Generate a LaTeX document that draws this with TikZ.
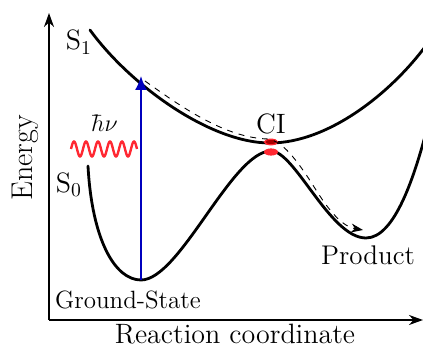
\documentclass[tikz,border=0pt]{standalone}
\usepackage{fontspec}
\usetikzlibrary{arrows.meta}
\definecolor{myblue}{RGB}{0,0,190}
\definecolor{myred}{RGB}{255,40,50}
\definecolor{darkdot}{RGB}{170,0,0}
\begin{document}
\begin{tikzpicture}[x=0.5pt,y=-0.5pt,
  curve/.style={line width=1.4pt, line cap=round},
  axis/.style={line width=1pt,-{Stealth[length=7pt,width=5pt]}},
  lbl/.style={inner sep=0pt},
  big/.style={font=\fontsize{14}{16}\selectfont},
  mid/.style={font=\fontsize{12.5}{15}\selectfont}]
\useasboundingbox (0,0) rectangle (423,347);
% axes
\coordinate (O) at (49,320);
\coordinate (yend) at (49,13);
\coordinate (xend) at (423,320);
\draw[axis] (O) -- (yend);
\draw[axis] (O) -- (xend);
\begin{scope}
\clip (0,0) rectangle (423,347);
% S1
\draw[curve] (90,30) .. controls (130,85) and (210,143) .. (270,143)
  .. controls (330,143) and (395,90) .. (430,40);
% S0
\draw[curve] (88,166) .. controls (92,240) and (115,280) .. (141,280)
  .. controls (180,280) and (232,151) .. (271,151)
  .. controls (295,151) and (330,238) .. (366,238)
  .. controls (395,238) and (415,175) .. (428,125);
\end{scope}
% conical intersection
\fill[myred] (271,152) ellipse [x radius=7, y radius=3.6];
\filldraw[fill=darkdot, draw=myred, line width=0.6pt] (271,142) ellipse [x radius=6.5, y radius=2.8];
% excitation
\coordinate (gsmin) at (141,280);
\coordinate (exc) at (141,76);
\draw[myblue, line width=0.9pt, -{Latex[length=7pt,width=6pt]}] (gsmin) -- (exc);
% photon
\draw[myred, line width=1.2pt] plot[domain=71:137, samples=160, smooth] (\x, {149-7.5*sin(30*(\x-71))});
% relaxation path
\coordinate (pstart) at (145,81);
\coordinate (pci) at (268,139);
\coordinate (pend) at (363,230);
\draw[dashed, line width=0.45pt, -{Stealth[length=6pt,width=4.5pt]}]
  (pstart) .. controls (180,106) and (225,138) .. (pci)
  .. controls (282,141) and (296,158) .. (316,190)
  .. controls (333,217) and (345,227) .. (pend);
% labels
\node[lbl, big] (s1) at (79,42) {S\textsubscript{1}};
\node[lbl, big] (s0) at (69,185) {S\textsubscript{0}};
\node[lbl, font=\fontsize{13}{15}\selectfont] (hv) at (104,123) {$\hbar\nu$};
\node[lbl, big] (ci) at (271,124) {CI};
\node[lbl, mid] (gs) at (128,300) {Ground-State};
\node[lbl, font=\fontsize{13.5}{16}\selectfont] (pr) at (368,255) {Product};
\node[lbl, font=\fontsize{15}{17}\selectfont, rotate=90] (en) at (25,158) {Energy};
\node[lbl, font=\fontsize{14}{16}\selectfont] (rc) at (235,334) {Reaction coordinate};
\end{tikzpicture}
\end{document}
